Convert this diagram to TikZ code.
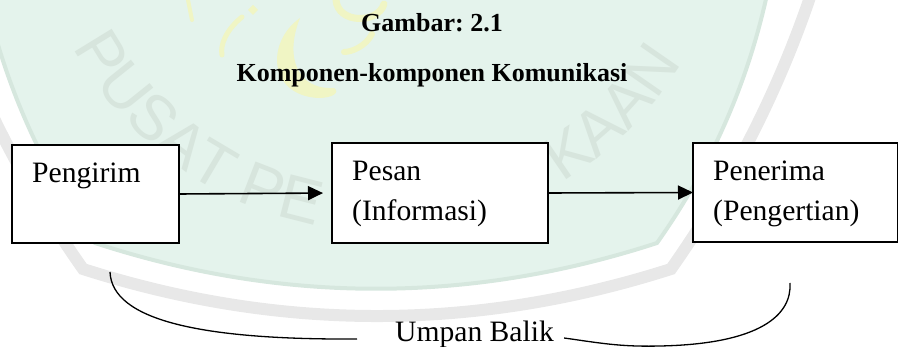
\documentclass[tikz,border=0pt]{standalone}
\usepackage{fontspec}
\setmainfont{Liberation Serif}
\newfontfamily\wmfont{Liberation Sans}
\usetikzlibrary{arrows.meta,decorations.text}
\frenchspacing

\definecolor{wmgreen}{RGB}{228,243,236}
\definecolor{wmedge}{RGB}{214,231,222}
\definecolor{wmgray}{RGB}{232,232,232}
\definecolor{wmtextc}{RGB}{215,229,221}
\definecolor{wmyellow}{RGB}{240,245,196}
\newcommand\wmstyle{\color{wmtextc}\wmfont\fontsize{63}{63}\selectfont}

\tikzset{
  box/.style={draw, fill=white, line width=1.8pt, inner sep=0pt, outer sep=0pt},
  lbl/.style={anchor=base west, inner sep=0pt, font=\fontsize{29.6}{35}\selectfont},
  ttl/.style={anchor=base, inner sep=0pt, font=\fontsize{26}{30}\selectfont\bfseries},
  flow/.style={line width=1.6pt, -{Triangle[length=15pt,width=14pt]}},
  fb/.style={line width=1.3pt},
}

\begin{document}
\begin{tikzpicture}[x=1pt,y=-1pt]
\useasboundingbox (0,0) rectangle (898,347);

% library stamp in the background
\begin{scope}
  \clip (0,0) rectangle (898,347);
  % outer grey band
  \draw[wmgray, line width=12pt, line join=miter]
    (-68,-40) .. controls (-34.5,71) and (16,174) .. (83,269)
    .. controls (279,331.7) and (475,331.7) .. (671,269)
    .. controls (738,174) and (788.5,71) .. (822,-40);
  % green field
  \filldraw[fill=wmgreen, draw=wmedge, line width=4pt, line join=miter]
    (-21,-36) .. controls (-3.3,65.7) and (35.3,158.7) .. (95,243)
    .. controls (282,304) and (470,304) .. (657,243)
    .. controls (716.7,158.7) and (755.3,65.7) .. (773,-36)
    -- (773,-80) -- (-21,-80) -- cycle;
  % calligraphy strokes
  \begin{scope}[line cap=round]
    \draw[wmyellow, line width=4pt] (188,0) -- (192,20);
    \draw[wmyellow, line width=5pt] (242,17) .. controls (226,30) and (220,45) .. (222,55);
    \fill[wmyellow] (253,5) -- (258,10) -- (253,15) -- (248,10) -- cycle;
    \fill[wmyellow] (300,18) .. controls (266,42) and (268,95) .. (318,98)
      .. controls (334,98) and (340,92) .. (334,88)
      .. controls (298,90) and (284,58) .. (300,18) -- cycle;
    \draw[wmyellow, line width=7pt] (336,0) .. controls (338,24) and (378,24) .. (384,4);
    \draw[wmyellow, line width=6pt] (372,34) .. controls (366,46) and (352,52) .. (344,52);
  \end{scope}
  % curved lettering
  \path[decorate, decoration={text along path, text align=left,
      text={|\wmstyle|PUSAT PE}}]
    (382,-118) ++(151.9:350) arc[start angle=151.9, end angle=95, radius=350];
  \path[decorate, decoration={text along path, text align=right,
      text={|\wmstyle|KAAN}}]
    (382,-118) ++(70:350) arc[start angle=70, end angle=31, radius=350];
\end{scope}

% titles
\node[ttl] (t1) at (432,32) {Gambar: 2.1};
\node[ttl] (t2) at (432,82) {Komponen-komponen Komunikasi};

% the three components
\node[box, minimum width=167pt, minimum height=98pt] (send) at (95.5,194) {};
\node[box, minimum width=216pt, minimum height=100pt] (msg) at (440,193) {};
\node[box, minimum width=205pt, minimum height=99pt] (recv) at (795.5,192.5) {};

\node[lbl] (sendt) at ([xshift=20pt,yshift=-37.5pt]send.north west) {Pengirim};
\node[lbl] (msgt1) at ([xshift=20pt,yshift=-37.5pt]msg.north west) {Pesan};
\node[lbl] (msgt2) at ([yshift=-40pt]msgt1.base west) {(Informasi)};
\node[lbl] (recvt1) at ([xshift=20pt,yshift=-37.5pt]recv.north west) {Penerima};
\node[lbl] (recvt2) at ([yshift=-40pt]recvt1.base west) {(Pengertian)};

% forward flow
\draw[flow, shorten >=9pt] (send.east) -- (msg.west);
\draw[flow] (msg.east) -- (recv.west);

% feedback loop
\node[lbl] (fbt) at (395,342) {Umpan Balik};
\coordinate (fbl) at (110,272);
\coordinate (fbr) at (790,283);
\draw[fb] (fbl) .. controls (112,320) and (200,340) .. ([xshift=-38pt,yshift=3pt]fbt.base west);
\draw[fb] ([xshift=10pt,yshift=4pt]fbt.base east) .. controls (600,343) and (620,347) .. (660,346)
  .. controls (760,344) and (792,315) .. (fbr);
\end{tikzpicture}
\end{document}
